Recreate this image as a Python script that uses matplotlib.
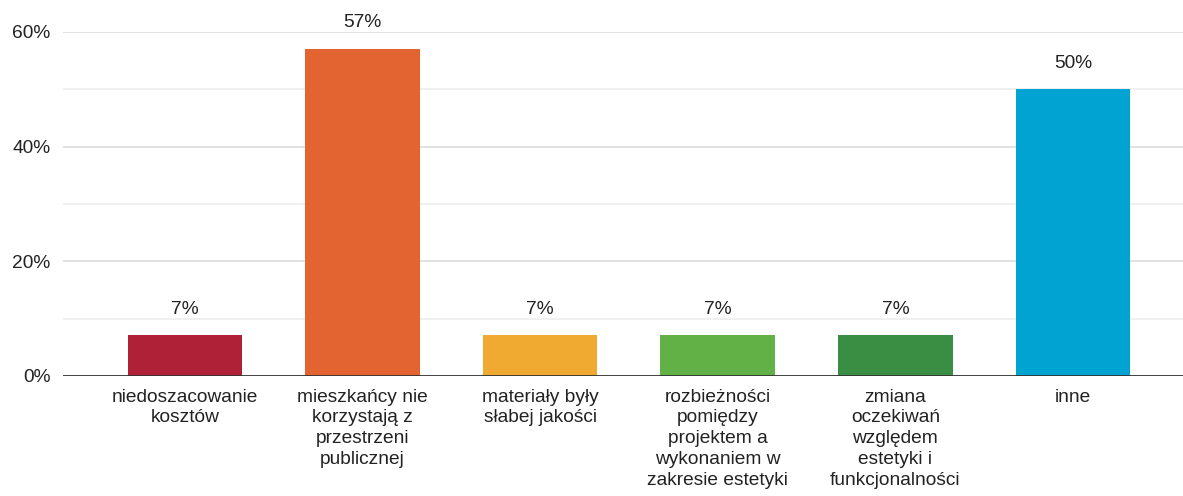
import numpy as np
import matplotlib.pyplot as plt

plt.rcParams['font.family'] = ['Liberation Sans', 'DejaVu Sans']

categories = [
    "niedoszacowanie\nkosztów",
    "mieszkańcy nie\nkorzystają z\nprzestrzeni\npublicznej",
    "materiały były\nsłabej jakości",
    "rozbieżności\npomiędzy\nprojektem a\nwykonaniem w\nzakresie estetyki",
    "zmiana\noczekiwań\nwzględem\nestetyki i\nfunkcjonalności",
    "inne",
]
values = [7.1, 57.1, 7.1, 7.1, 7.1, 50.0]
labels = ["7%", "57%", "7%", "7%", "7%", "50%"]
colors = ["#AF2136", "#E36430", "#F0AA31", "#62B146", "#3A8E43", "#00A3D2"]

fig = plt.figure(figsize=(11.83, 4.96), dpi=100)
ax = fig.add_axes([63 / 1183, 120 / 496, 1120 / 1183, 344 / 496])

x = np.arange(len(categories))
ax.bar(x, values, width=0.645, color=colors, zorder=3)

fs = 13.8
for xi, v, lab in zip(x, values, labels):
    ax.text(xi, v + 3.0, lab, ha='center', va='bottom', fontsize=fs,
            color='#222222', clip_on=False)

ax.set_xlim(-0.687, 5.62)
ax.set_ylim(0, 60)

for y in range(10, 61, 10):
    ax.axhline(y, color='#dddddd' if y % 20 == 0 else '#eeeeee', lw=1.2, zorder=1)
ax.axhline(0, color='#333333', lw=1.3, zorder=4)

ax.set_yticks([0, 20, 40, 60])
ax.set_yticklabels(["0%", "20%", "40%", "60%"])
ax.set_xticks(x)
ax.set_xticklabels(categories, linespacing=1.3)
ax.tick_params(axis='both', length=0, labelsize=fs, colors='#222222')
ax.tick_params(axis='x', pad=9)
ax.tick_params(axis='y', pad=9)
for s in ax.spines.values():
    s.set_visible(False)

fig.savefig("out.png", dpi=100)
